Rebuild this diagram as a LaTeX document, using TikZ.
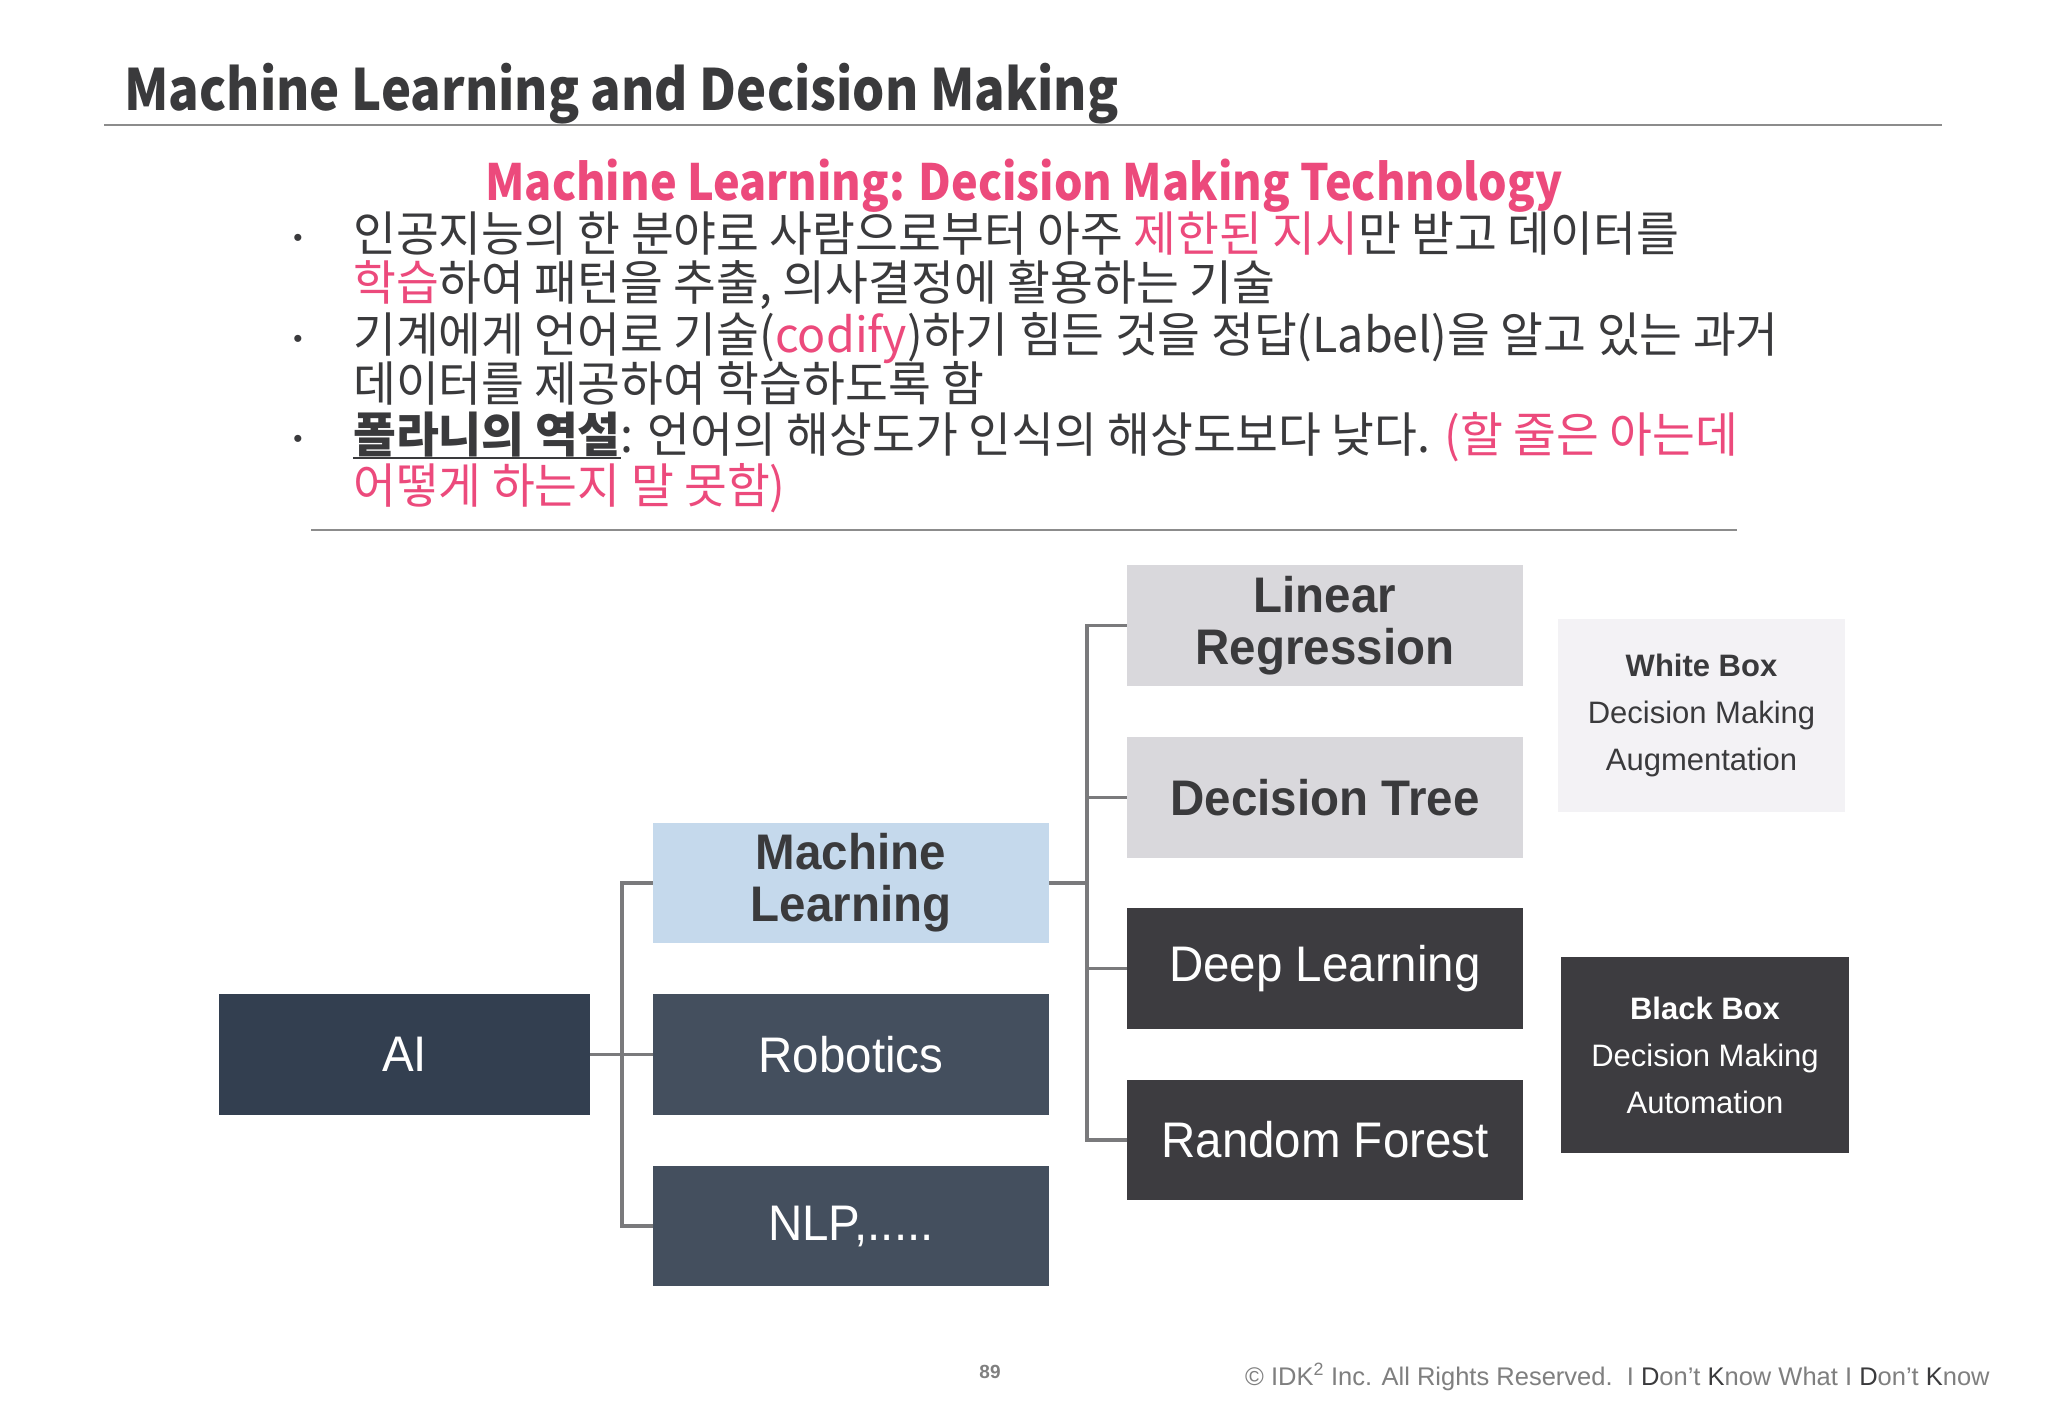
\documentclass[tikz,border=0pt]{standalone}
\usepackage{fontspec}
\setmainfont{Liberation Sans}
\newfontfamily\kr[FakeStretch=0.97]{Noto Sans CJK KR}
\newfontfamily\krt[FakeStretch=0.89]{Noto Sans CJK KR}
\newfontfamily\krh[FakeStretch=0.9]{Noto Sans CJK KR}
\newfontfamily\boxf[FakeStretch=0.95]{Liberation Sans}
\usetikzlibrary{calc}
\definecolor{titlec}{HTML}{3A3A3C}
\definecolor{pinkc}{HTML}{EC4A7C}
\definecolor{rulec}{HTML}{8C8C8C}
\definecolor{connc}{HTML}{7A7A7C}
\definecolor{aic}{HTML}{333F50}
\definecolor{robc}{HTML}{444F5E}
\definecolor{mlc}{HTML}{C5D9EC}
\definecolor{lgc}{HTML}{D9D8DC}
\definecolor{dkc}{HTML}{3D3C40}
\definecolor{wbc}{HTML}{F3F2F5}
\definecolor{footc}{HTML}{7F7F7F}
\newlength\ulw
\newcommand\myul[1]{\settowidth\ulw{#1}\rlap{\rule[-7pt]{\ulw}{2.5pt}}{#1}}
\tikzset{
  box/.style={rectangle, inner sep=0pt, align=center, font=\boxf\fontsize{50}{52}\selectfont},
  darkbox/.style={box, text=white},
  lightbox/.style={box, text=titlec, font=\boxf\fontsize{50}{52}\selectfont\bfseries},
  conn/.style={draw=connc, line width=3.5pt},
  krline/.style={anchor=west, inner sep=0pt, text height=38pt, text depth=6pt, text=titlec, font=\kr\fontsize{48}{52}\selectfont},
  bul/.style={inner sep=0pt, text=titlec, font=\fontsize{26}{26}\selectfont},
  sidebox/.style={rectangle, inner sep=0pt, align=center, font=\fontsize{31}{47}\selectfont}
}
\begin{document}
\begin{tikzpicture}[x=1pt,y=-1pt]
\useasboundingbox (0,0) rectangle (2048,1418);
\fill[white] (0,0) rectangle (2048,1418);

% title
\node[anchor=base west, inner sep=0pt, text=titlec, font=\krt\bfseries\fontsize{57}{60}\selectfont] (title) at (124,111) {Machine Learning and Decision Making};
\coordinate (r1a) at (104,125);
\coordinate (r1b) at (1942,125);
\draw[rulec, line width=2pt] (r1a) -- (r1b);

% pink heading
\node[anchor=base, inner sep=0pt, text=pinkc, font=\krh\bfseries\fontsize{50}{54}\selectfont] (head) at (1024,200) {Machine Learning: Decision Making Technology};

% bullets
\node[bul] (b1) at (298,240) {•};
\node[bul] (b2) at (298,341) {•};
\node[bul] (b3) at (298,441) {•};

\node[krline] (l1) at (353,235) {인공지능의 한 분야로 사람으로부터 아주 \textcolor{pinkc}{제한된 지시}만 받고 데이터를};
\node[krline] (l2) at (353,284) {\textcolor{pinkc}{학습}하여 패턴을 추출, 의사결정에 활용하는 기술};
\node[krline] (l3) at (353,336) {기계에게 언어로 기술(\textcolor{pinkc}{codify})하기 힘든 것을 정답(Label)을 알고 있는 과거};
\node[krline] (l4) at (353,385) {데이터를 제공하여 학습하도록 함};
\node[krline] (l5) at (353,436) {\myul{\bfseries 폴라니의 역설}: 언어의 해상도가 인식의 해상도보다 낮다. \textcolor{pinkc}{(할 줄은 아는데}};
\node[krline] (l6) at (353,487) {\textcolor{pinkc}{어떻게 하는지 말 못함)}};

\coordinate (r2a) at (311,530);
\coordinate (r2b) at (1737,530);
\draw[rulec, line width=1.5pt] (r2a) -- (r2b);

% tree boxes
\node[darkbox, fill=aic, minimum width=371pt, minimum height=121pt] (AI) at (404.5,1054.5) {AI};
\node[lightbox, fill=mlc, minimum width=396pt, minimum height=120pt] (ML) at (851,883) {Machine\\Learning};
\node[darkbox, fill=robc, minimum width=396pt, minimum height=121pt] (ROB) at (851,1054.5) {Robotics};
\node[darkbox, fill=robc, minimum width=396pt, minimum height=120pt] (NLP) at (851,1226) {NLP,.....};

\node[lightbox, fill=lgc, minimum width=396pt, minimum height=121pt] (LR) at (1325,625.5) {Linear\\Regression};
\node[lightbox, fill=lgc, minimum width=396pt, minimum height=121pt] (DT) at (1325,797.5) {Decision Tree};
\node[darkbox, fill=dkc, minimum width=396pt, minimum height=121pt] (DL) at (1325,968.5) {Deep Learning};
\node[darkbox, fill=dkc, minimum width=396pt, minimum height=120pt] (RF) at (1325,1140) {Random Forest};

\node[sidebox, fill=wbc, text=titlec, minimum width=287pt, minimum height=193pt] (WB) at (1701.5,715.5) {\textbf{White Box}\\Decision Making\\Augmentation};
\node[sidebox, fill=dkc, text=white, minimum width=288pt, minimum height=196pt] (BB) at (1705,1055) {\textbf{Black Box}\\Decision Making\\Automation};

% connectors
\coordinate (j1) at (622,1054.5);
\coordinate (j2) at (1087,883);
\draw[conn] (AI.east) -- (ROB.west);
\draw[conn] (ML.west) -| (j1) |- (NLP.west);
\draw[conn] (ML.east) -- (j2);
\draw[conn] (LR.west) -| (j2) |- (RF.west);
\draw[conn] (j2 |- DT.west) -- (DT.west);
\draw[conn] (j2 |- DL.west) -- (DL.west);

% footer
\node[anchor=base, inner sep=0pt, text=footc, font=\bfseries\fontsize{19}{20}\selectfont] (pg) at (990,1378) {89};
\node[anchor=base west, inner sep=0pt, text=footc, font=\fontsize{25.5}{26}\selectfont] (copy) at (1245,1385) {© IDK\textsuperscript{2} Inc. All Rights Reserved.\ \ I \textcolor{titlec}{D}on’t \textcolor{titlec}{K}now What I \textcolor{titlec}{D}on’t \textcolor{titlec}{K}now};
\end{tikzpicture}
\end{document}
